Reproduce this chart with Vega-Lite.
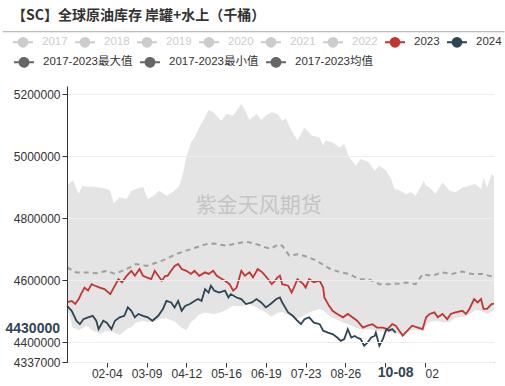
{
  "$schema": "https://vega.github.io/schema/vega-lite/v6.json",
  "width": 427,
  "height": 276,
  "autosize": "none",
  "padding": {"left": 67, "top": 86, "right": 11, "bottom": 24},
  "background": "white",
  "config": {"view": {"stroke": null}, "font": "Liberation Sans, Noto Sans CJK SC, sans-serif"},
  "title": {"text": "【SC】全球原油库存 岸罐+水上（千桶）", "anchor": "start", "frame": "group", "dx": -55, "offset": 8, "fontSize": 14, "font": "Noto Sans CJK SC", "fontWeight": "bold", "color": "#333333"},
  "datasets": {
    "band": [
      {"date":"2024-01-01","max":4905000,"min":4513000},{"date":"2024-01-06","max":4924000,"min":4448000},{"date":"2024-01-11","max":4879000,"min":4440000},{"date":"2024-01-14","max":4905000,"min":4445000},{"date":"2024-01-18","max":4902000,"min":4454000},{"date":"2024-01-23","max":4902000,"min":4438000},{"date":"2024-01-29","max":4900000,"min":4428000},{"date":"2024-02-04","max":4895000,"min":4438000},{"date":"2024-02-07","max":4889000,"min":4435000},{"date":"2024-02-10","max":4848000,"min":4432000},{"date":"2024-02-15","max":4868000,"min":4424000},{"date":"2024-02-21","max":4863000,"min":4443000},{"date":"2024-02-25","max":4889000,"min":4450000},{"date":"2024-02-29","max":4895000,"min":4464000},{"date":"2024-03-06","max":4902000,"min":4470000},{"date":"2024-03-10","max":4863000,"min":4466000},{"date":"2024-03-15","max":4873000,"min":4467000},{"date":"2024-03-20","max":4889000,"min":4475000},{"date":"2024-03-26","max":4873000,"min":4478000},{"date":"2024-04-02","max":4889000,"min":4468000},{"date":"2024-04-06","max":4905000,"min":4454000},{"date":"2024-04-09","max":4943000,"min":4445000},{"date":"2024-04-12","max":4997000,"min":4440000},{"date":"2024-04-16","max":5045000,"min":4466000},{"date":"2024-04-20","max":5067000,"min":4478000},{"date":"2024-04-23","max":5094000,"min":4490000},{"date":"2024-04-28","max":5126000,"min":4497000},{"date":"2024-05-01","max":5150000,"min":4495000},{"date":"2024-05-05","max":5142000,"min":4492000},{"date":"2024-05-12","max":5115000,"min":4498000},{"date":"2024-05-16","max":5137000,"min":4505000},{"date":"2024-05-22","max":5132000,"min":4518000},{"date":"2024-05-29","max":5169000,"min":4516000},{"date":"2024-06-02","max":5142000,"min":4520000},{"date":"2024-06-05","max":5117000,"min":4524000},{"date":"2024-06-11","max":5137000,"min":4512000},{"date":"2024-06-15","max":5117000,"min":4505000},{"date":"2024-06-19","max":5132000,"min":4497000},{"date":"2024-06-24","max":5142000,"min":4483000},{"date":"2024-06-29","max":5137000,"min":4496000},{"date":"2024-07-03","max":5115000,"min":4498000},{"date":"2024-07-06","max":5121000,"min":4492000},{"date":"2024-07-11","max":5083000,"min":4483000},{"date":"2024-07-16","max":5051000,"min":4476000},{"date":"2024-07-22","max":5094000,"min":4488000},{"date":"2024-07-28","max":5067000,"min":4500000},{"date":"2024-08-04","max":5061000,"min":4508000},{"date":"2024-08-07","max":5035000,"min":4503000},{"date":"2024-08-09","max":5051000,"min":4497000},{"date":"2024-08-15","max":5045000,"min":4480000},{"date":"2024-08-21","max":5029000,"min":4470000},{"date":"2024-08-25","max":5040000,"min":4462000},{"date":"2024-08-29","max":4997000,"min":4458000},{"date":"2024-09-04","max":4970000,"min":4447000},{"date":"2024-09-08","max":4992000,"min":4443000},{"date":"2024-09-15","max":4981000,"min":4442000},{"date":"2024-09-20","max":4954000,"min":4440000},{"date":"2024-09-24","max":4970000,"min":4437000},{"date":"2024-09-30","max":4954000,"min":4434000},{"date":"2024-10-04","max":4927000,"min":4432000},{"date":"2024-10-07","max":4895000,"min":4430000},{"date":"2024-10-12","max":4889000,"min":4425000},{"date":"2024-10-14","max":4884000,"min":4418000},{"date":"2024-10-17","max":4879000,"min":4430000},{"date":"2024-10-21","max":4884000,"min":4440000},{"date":"2024-10-25","max":4873000,"min":4440000},{"date":"2024-10-29","max":4900000,"min":4438000},{"date":"2024-11-01","max":4921000,"min":4436000},{"date":"2024-11-03","max":4905000,"min":4455000},{"date":"2024-11-06","max":4900000,"min":4466000},{"date":"2024-11-11","max":4879000,"min":4470000},{"date":"2024-11-17","max":4916000,"min":4465000},{"date":"2024-11-23","max":4889000,"min":4466000},{"date":"2024-11-28","max":4884000,"min":4480000},{"date":"2024-12-04","max":4900000,"min":4482000},{"date":"2024-12-10","max":4905000,"min":4490000},{"date":"2024-12-15","max":4911000,"min":4505000},{"date":"2024-12-20","max":4895000,"min":4502000},{"date":"2024-12-22","max":4932000,"min":4498000},{"date":"2024-12-25","max":4900000,"min":4492000},{"date":"2024-12-29","max":4943000,"min":4500000},{"date":"2024-12-31","max":4935000,"min":4505000}
    ],
    "avg": [
      {"date":"2024-01-01","value":4642000,"series":"2017-2023均值"},{"date":"2024-01-09","value":4626000,"series":"2017-2023均值"},{"date":"2024-01-18","value":4626000,"series":"2017-2023均值"},{"date":"2024-01-26","value":4623000,"series":"2017-2023均值"},{"date":"2024-02-04","value":4631000,"series":"2017-2023均值"},{"date":"2024-02-11","value":4621000,"series":"2017-2023均值"},{"date":"2024-02-21","value":4637000,"series":"2017-2023均值"},{"date":"2024-02-29","value":4653000,"series":"2017-2023均值"},{"date":"2024-03-09","value":4647000,"series":"2017-2023均值"},{"date":"2024-03-18","value":4658000,"series":"2017-2023均值"},{"date":"2024-03-26","value":4669000,"series":"2017-2023均值"},{"date":"2024-04-03","value":4685000,"series":"2017-2023均值"},{"date":"2024-04-12","value":4696000,"series":"2017-2023均值"},{"date":"2024-04-20","value":4706000,"series":"2017-2023均值"},{"date":"2024-04-29","value":4717000,"series":"2017-2023均值"},{"date":"2024-05-06","value":4719000,"series":"2017-2023均值"},{"date":"2024-05-16","value":4712000,"series":"2017-2023均值"},{"date":"2024-05-25","value":4719000,"series":"2017-2023均值"},{"date":"2024-06-02","value":4725000,"series":"2017-2023均值"},{"date":"2024-06-11","value":4717000,"series":"2017-2023均值"},{"date":"2024-06-19","value":4706000,"series":"2017-2023均值"},{"date":"2024-06-23","value":4703000,"series":"2017-2023均值"},{"date":"2024-06-28","value":4712000,"series":"2017-2023均值"},{"date":"2024-07-01","value":4717000,"series":"2017-2023均值"},{"date":"2024-07-03","value":4712000,"series":"2017-2023均值"},{"date":"2024-07-09","value":4680000,"series":"2017-2023均值"},{"date":"2024-07-17","value":4685000,"series":"2017-2023均值"},{"date":"2024-07-26","value":4674000,"series":"2017-2023均值"},{"date":"2024-08-01","value":4664000,"series":"2017-2023均值"},{"date":"2024-08-06","value":4653000,"series":"2017-2023均值"},{"date":"2024-08-13","value":4637000,"series":"2017-2023均值"},{"date":"2024-08-22","value":4626000,"series":"2017-2023均值"},{"date":"2024-08-29","value":4621000,"series":"2017-2023均值"},{"date":"2024-09-07","value":4604000,"series":"2017-2023均值"},{"date":"2024-09-15","value":4604000,"series":"2017-2023均值"},{"date":"2024-09-24","value":4588000,"series":"2017-2023均值"},{"date":"2024-10-02","value":4588000,"series":"2017-2023均值"},{"date":"2024-10-11","value":4590000,"series":"2017-2023均值"},{"date":"2024-10-17","value":4593000,"series":"2017-2023均值"},{"date":"2024-10-25","value":4588000,"series":"2017-2023均值"},{"date":"2024-10-31","value":4620000,"series":"2017-2023均值"},{"date":"2024-11-08","value":4615000,"series":"2017-2023均值"},{"date":"2024-11-17","value":4626000,"series":"2017-2023均值"},{"date":"2024-11-25","value":4621000,"series":"2017-2023均值"},{"date":"2024-12-04","value":4629000,"series":"2017-2023均值"},{"date":"2024-12-12","value":4621000,"series":"2017-2023均值"},{"date":"2024-12-21","value":4621000,"series":"2017-2023均值"},{"date":"2024-12-27","value":4615000,"series":"2017-2023均值"},{"date":"2024-12-31","value":4612000,"series":"2017-2023均值"}
    ],
    "years": [
      {"date":"2024-01-01","value":4529000,"series":"2023"},{"date":"2024-01-05","value":4534000,"series":"2023"},{"date":"2024-01-08","value":4524000,"series":"2023"},{"date":"2024-01-11","value":4540000,"series":"2023"},{"date":"2024-01-13","value":4556000,"series":"2023"},{"date":"2024-01-16","value":4577000,"series":"2023"},{"date":"2024-01-19","value":4567000,"series":"2023"},{"date":"2024-01-22","value":4588000,"series":"2023"},{"date":"2024-01-25","value":4583000,"series":"2023"},{"date":"2024-01-29","value":4577000,"series":"2023"},{"date":"2024-02-02","value":4572000,"series":"2023"},{"date":"2024-02-07","value":4556000,"series":"2023"},{"date":"2024-02-10","value":4577000,"series":"2023"},{"date":"2024-02-14","value":4604000,"series":"2023"},{"date":"2024-02-17","value":4594000,"series":"2023"},{"date":"2024-02-21","value":4615000,"series":"2023"},{"date":"2024-02-25","value":4631000,"series":"2023"},{"date":"2024-02-28","value":4615000,"series":"2023"},{"date":"2024-03-03","value":4637000,"series":"2023"},{"date":"2024-03-06","value":4615000,"series":"2023"},{"date":"2024-03-09","value":4610000,"series":"2023"},{"date":"2024-03-13","value":4604000,"series":"2023"},{"date":"2024-03-16","value":4631000,"series":"2023"},{"date":"2024-03-19","value":4615000,"series":"2023"},{"date":"2024-03-22","value":4599000,"series":"2023"},{"date":"2024-03-25","value":4615000,"series":"2023"},{"date":"2024-03-27","value":4615000,"series":"2023"},{"date":"2024-03-30","value":4631000,"series":"2023"},{"date":"2024-04-02","value":4647000,"series":"2023"},{"date":"2024-04-05","value":4653000,"series":"2023"},{"date":"2024-04-08","value":4637000,"series":"2023"},{"date":"2024-04-12","value":4631000,"series":"2023"},{"date":"2024-04-16","value":4621000,"series":"2023"},{"date":"2024-04-19","value":4631000,"series":"2023"},{"date":"2024-04-23","value":4615000,"series":"2023"},{"date":"2024-04-28","value":4626000,"series":"2023"},{"date":"2024-05-01","value":4621000,"series":"2023"},{"date":"2024-05-05","value":4631000,"series":"2023"},{"date":"2024-05-08","value":4615000,"series":"2023"},{"date":"2024-05-10","value":4610000,"series":"2023"},{"date":"2024-05-15","value":4599000,"series":"2023"},{"date":"2024-05-19","value":4588000,"series":"2023"},{"date":"2024-05-22","value":4567000,"series":"2023"},{"date":"2024-05-25","value":4577000,"series":"2023"},{"date":"2024-05-29","value":4631000,"series":"2023"},{"date":"2024-06-01","value":4615000,"series":"2023"},{"date":"2024-06-05","value":4626000,"series":"2023"},{"date":"2024-06-08","value":4610000,"series":"2023"},{"date":"2024-06-12","value":4637000,"series":"2023"},{"date":"2024-06-16","value":4626000,"series":"2023"},{"date":"2024-06-21","value":4604000,"series":"2023"},{"date":"2024-06-24","value":4588000,"series":"2023"},{"date":"2024-06-26","value":4595000,"series":"2023"},{"date":"2024-06-29","value":4610000,"series":"2023"},{"date":"2024-07-01","value":4615000,"series":"2023"},{"date":"2024-07-03","value":4588000,"series":"2023"},{"date":"2024-07-08","value":4583000,"series":"2023"},{"date":"2024-07-11","value":4561000,"series":"2023"},{"date":"2024-07-13","value":4577000,"series":"2023"},{"date":"2024-07-16","value":4604000,"series":"2023"},{"date":"2024-07-21","value":4588000,"series":"2023"},{"date":"2024-07-23","value":4577000,"series":"2023"},{"date":"2024-07-26","value":4604000,"series":"2023"},{"date":"2024-07-30","value":4594000,"series":"2023"},{"date":"2024-08-04","value":4599000,"series":"2023"},{"date":"2024-08-07","value":4577000,"series":"2023"},{"date":"2024-08-08","value":4545000,"series":"2023"},{"date":"2024-08-12","value":4518000,"series":"2023"},{"date":"2024-08-15","value":4502000,"series":"2023"},{"date":"2024-08-19","value":4492000,"series":"2023"},{"date":"2024-08-24","value":4481000,"series":"2023"},{"date":"2024-08-28","value":4492000,"series":"2023"},{"date":"2024-09-01","value":4481000,"series":"2023"},{"date":"2024-09-05","value":4470000,"series":"2023"},{"date":"2024-09-10","value":4448000,"series":"2023"},{"date":"2024-09-14","value":4454000,"series":"2023"},{"date":"2024-09-18","value":4459000,"series":"2023"},{"date":"2024-09-22","value":4448000,"series":"2023"},{"date":"2024-09-27","value":4448000,"series":"2023"},{"date":"2024-10-01","value":4443000,"series":"2023"},{"date":"2024-10-05","value":4459000,"series":"2023"},{"date":"2024-10-08","value":4454000,"series":"2023"},{"date":"2024-10-11","value":4438000,"series":"2023"},{"date":"2024-10-14","value":4422000,"series":"2023"},{"date":"2024-10-18","value":4438000,"series":"2023"},{"date":"2024-10-22","value":4454000,"series":"2023"},{"date":"2024-10-27","value":4448000,"series":"2023"},{"date":"2024-10-31","value":4443000,"series":"2023"},{"date":"2024-11-03","value":4481000,"series":"2023"},{"date":"2024-11-06","value":4492000,"series":"2023"},{"date":"2024-11-10","value":4497000,"series":"2023"},{"date":"2024-11-13","value":4481000,"series":"2023"},{"date":"2024-11-17","value":4492000,"series":"2023"},{"date":"2024-11-21","value":4475000,"series":"2023"},{"date":"2024-11-24","value":4492000,"series":"2023"},{"date":"2024-11-28","value":4497000,"series":"2023"},{"date":"2024-12-04","value":4502000,"series":"2023"},{"date":"2024-12-07","value":4492000,"series":"2023"},{"date":"2024-12-10","value":4508000,"series":"2023"},{"date":"2024-12-14","value":4540000,"series":"2023"},{"date":"2024-12-17","value":4529000,"series":"2023"},{"date":"2024-12-20","value":4540000,"series":"2023"},{"date":"2024-12-22","value":4508000,"series":"2023"},{"date":"2024-12-25","value":4508000,"series":"2023"},{"date":"2024-12-29","value":4524000,"series":"2023"},{"date":"2024-12-31","value":4525000,"series":"2023"},
      {"date":"2024-01-01","value":4518000,"series":"2024"},{"date":"2024-01-05","value":4502000,"series":"2024"},{"date":"2024-01-09","value":4470000,"series":"2024"},{"date":"2024-01-12","value":4459000,"series":"2024"},{"date":"2024-01-15","value":4475000,"series":"2024"},{"date":"2024-01-19","value":4481000,"series":"2024"},{"date":"2024-01-23","value":4486000,"series":"2024"},{"date":"2024-01-26","value":4470000,"series":"2024"},{"date":"2024-01-28","value":4443000,"series":"2024"},{"date":"2024-02-01","value":4470000,"series":"2024"},{"date":"2024-02-04","value":4464000,"series":"2024"},{"date":"2024-02-08","value":4443000,"series":"2024"},{"date":"2024-02-11","value":4470000,"series":"2024"},{"date":"2024-02-15","value":4481000,"series":"2024"},{"date":"2024-02-19","value":4486000,"series":"2024"},{"date":"2024-02-22","value":4513000,"series":"2024"},{"date":"2024-02-25","value":4502000,"series":"2024"},{"date":"2024-02-28","value":4481000,"series":"2024"},{"date":"2024-03-02","value":4492000,"series":"2024"},{"date":"2024-03-06","value":4486000,"series":"2024"},{"date":"2024-03-10","value":4481000,"series":"2024"},{"date":"2024-03-14","value":4470000,"series":"2024"},{"date":"2024-03-19","value":4486000,"series":"2024"},{"date":"2024-03-23","value":4508000,"series":"2024"},{"date":"2024-03-26","value":4534000,"series":"2024"},{"date":"2024-03-30","value":4529000,"series":"2024"},{"date":"2024-04-02","value":4513000,"series":"2024"},{"date":"2024-04-05","value":4534000,"series":"2024"},{"date":"2024-04-08","value":4502000,"series":"2024"},{"date":"2024-04-11","value":4518000,"series":"2024"},{"date":"2024-04-15","value":4524000,"series":"2024"},{"date":"2024-04-19","value":4534000,"series":"2024"},{"date":"2024-04-22","value":4540000,"series":"2024"},{"date":"2024-04-25","value":4534000,"series":"2024"},{"date":"2024-04-28","value":4572000,"series":"2024"},{"date":"2024-05-01","value":4561000,"series":"2024"},{"date":"2024-05-03","value":4583000,"series":"2024"},{"date":"2024-05-06","value":4567000,"series":"2024"},{"date":"2024-05-10","value":4561000,"series":"2024"},{"date":"2024-05-15","value":4567000,"series":"2024"},{"date":"2024-05-18","value":4545000,"series":"2024"},{"date":"2024-05-20","value":4556000,"series":"2024"},{"date":"2024-05-25","value":4545000,"series":"2024"},{"date":"2024-05-29","value":4540000,"series":"2024"},{"date":"2024-06-02","value":4524000,"series":"2024"},{"date":"2024-06-07","value":4529000,"series":"2024"},{"date":"2024-06-11","value":4540000,"series":"2024"},{"date":"2024-06-15","value":4529000,"series":"2024"},{"date":"2024-06-19","value":4513000,"series":"2024"},{"date":"2024-06-23","value":4524000,"series":"2024"},{"date":"2024-06-28","value":4540000,"series":"2024"},{"date":"2024-07-01","value":4545000,"series":"2024"},{"date":"2024-07-03","value":4529000,"series":"2024"},{"date":"2024-07-08","value":4497000,"series":"2024"},{"date":"2024-07-12","value":4486000,"series":"2024"},{"date":"2024-07-16","value":4470000,"series":"2024"},{"date":"2024-07-19","value":4459000,"series":"2024"},{"date":"2024-07-22","value":4475000,"series":"2024"},{"date":"2024-07-26","value":4481000,"series":"2024"},{"date":"2024-07-30","value":4464000,"series":"2024"},{"date":"2024-08-04","value":4459000,"series":"2024"},{"date":"2024-08-07","value":4438000,"series":"2024"},{"date":"2024-08-11","value":4432000,"series":"2024"},{"date":"2024-08-15","value":4427000,"series":"2024"},{"date":"2024-08-19","value":4416000,"series":"2024"},{"date":"2024-08-22","value":4405000,"series":"2024"},{"date":"2024-08-25","value":4411000,"series":"2024"},{"date":"2024-08-28","value":4443000,"series":"2024"},{"date":"2024-08-31","value":4416000,"series":"2024"},{"date":"2024-09-03","value":4421000,"series":"2024"},{"date":"2024-09-05","value":4416000,"series":"2024"},{"date":"2024-09-08","value":4411000,"series":"2024"},{"date":"2024-09-11","value":4389000,"series":"2024"},{"date":"2024-09-14","value":4400000,"series":"2024"},{"date":"2024-09-17","value":4416000,"series":"2024"},{"date":"2024-09-20","value":4421000,"series":"2024"},{"date":"2024-09-21","value":4432000,"series":"2024"},{"date":"2024-09-24","value":4389000,"series":"2024"},{"date":"2024-09-27","value":4411000,"series":"2024"},{"date":"2024-09-30","value":4443000,"series":"2024"},{"date":"2024-10-02","value":4438000,"series":"2024"},{"date":"2024-10-05","value":4443000,"series":"2024"},{"date":"2024-10-08","value":4432000,"series":"2024"}
    ]
  },
  "layer": [
    {
      "data": {"name": "band"},
      "mark": {"type": "area", "color": "#e4e4e4", "interpolate": "linear"},
      "encoding": {
        "x": {
          "field": "date", "type": "temporal", "title": null,
          "scale": {"type": "utc", "domain": [{"year": 2024, "month": 1, "date": 1, "utc": true}, {"year": 2024, "month": 12, "date": 31, "utc": true}]},
          "axis": {
            "values": [
              {"year": 2024, "month": 2, "date": 4, "utc": true}, {"year": 2024, "month": 3, "date": 9, "utc": true}, {"year": 2024, "month": 4, "date": 12, "utc": true}, {"year": 2024, "month": 5, "date": 16, "utc": true}, {"year": 2024, "month": 6, "date": 19, "utc": true}, {"year": 2024, "month": 7, "date": 23, "utc": true}, {"year": 2024, "month": 8, "date": 26, "utc": true}, {"year": 2024, "month": 9, "date": 29, "utc": true}, {"year": 2024, "month": 11, "date": 2, "utc": true}
            ],
            "labelExpr": "utcFormat(datum.value, '%m-%d') == '09-29' ? '' : (utcFormat(datum.value, '%m-%d') == '11-02' ? '02' : utcFormat(datum.value, '%m-%d'))",
            "labelAlign": {"condition": {"test": "utcFormat(datum.value, '%m-%d') == '11-02'", "value": "left"}, "value": "center"},
            "grid": false, "domainColor": "#333333", "tickColor": "#333333", "tickSize": 5,
            "labelColor": "#333333", "labelFontSize": 12, "labelPadding": 1, "labelFlush": false, "labelOverlap": false,
            "labelFont": "Liberation Sans"
          }
        },
        "y": {
          "field": "max", "type": "quantitative", "title": null,
          "scale": {"domain": [4337000, 5227000], "nice": false, "zero": false},
          "axis": {"values": [4337000, 4400000, 4600000, 4800000, 5000000, 5200000], "format": "d", "grid": true, "gridColor": "#eeeeee", "zindex": 1, "domainColor": "#333333", "tickColor": "#333333", "tickSize": 5, "labelColor": "#333333", "labelFontSize": 12, "labelPadding": 2, "labelFont": "Liberation Sans"}
        },
        "y2": {"field": "min"}
      }
    },
    {
      "data": {"values": [{"watermark": "紫金天风期货"}]},
      "mark": {"type": "text", "font": "Noto Sans CJK SC", "fontSize": 21, "color": "#c4c4c4", "align": "center", "baseline": "middle"},
      "encoding": {
        "x": {"datum": 1718236800000, "type": "temporal"},
        "y": {"datum": 4841000, "type": "quantitative"},
        "text": {"field": "watermark", "type": "nominal"}
      }
    },
    {
      "data": {"name": "avg"},
      "mark": {"type": "line", "strokeDash": [5, 4], "strokeWidth": 2, "opacity": 0.55},
      "encoding": {
        "x": {"field": "date", "type": "temporal", "title": null},
        "y": {"field": "value", "type": "quantitative", "title": null},
        "color": {
          "field": "series", "type": "nominal",
          "scale": {"domain": ["2017-2023最大值", "2017-2023最小值", "2017-2023均值"], "range": ["#666666", "#666666", "#666666"]},
          "legend": {
            "orient": "none", "legendX": -54, "legendY": -35, "direction": "horizontal", "title": null, "padding": 0,
            "symbolType": "M-1,0L-0.44,0M0.44,0L1,0M-0.44,0A0.44,0.44,0,1,1,0.44,0A0.44,0.44,0,1,1,-0.44,0Z",
            "symbolSize": 400, "symbolStrokeWidth": 2, "symbolOpacity": 1, "symbolDash": [1, 0], "symbolFillColor": "#666666",
            "labelFontSize": 11.5, "labelOffset": 8, "columnPadding": 3,
            "labelColor": "#333333", "labelFont": "Liberation Sans, Noto Sans CJK SC"
          }
        }
      }
    },
    {
      "data": {"name": "years"},
      "mark": {"type": "line", "strokeWidth": 1.8},
      "encoding": {
        "x": {"field": "date", "type": "temporal", "title": null},
        "y": {"field": "value", "type": "quantitative", "title": null},
        "color": {
          "field": "series", "type": "nominal",
          "scale": {"domain": ["2017", "2018", "2019", "2020", "2021", "2022", "2023", "2024"], "range": ["#cccccc", "#cccccc", "#cccccc", "#cccccc", "#cccccc", "#cccccc", "#c23531", "#2f4554"]},
          "legend": {
            "orient": "none", "legendX": -55, "legendY": -55, "direction": "horizontal", "title": null, "padding": 0,
            "symbolType": "M-1,0L-0.44,0M0.44,0L1,0M-0.44,0A0.44,0.44,0,1,1,0.44,0A0.44,0.44,0,1,1,-0.44,0Z",
            "symbolSize": 400, "symbolStrokeWidth": 2, "symbolOpacity": 1,
            "symbolFillColor": {"expr": "datum.value == '2023' ? '#c23531' : (datum.value == '2024' ? '#2f4554' : '#cccccc')"},
            "labelColor": {"expr": "datum.label == '2023' || datum.label == '2024' ? '#333333' : '#cccccc'"},
            "labelFontSize": 11.5, "labelOffset": 8, "columnPadding": 3,
            "labelFont": "Liberation Sans, Noto Sans CJK SC"
          }
        }
      }
    },
    {
      "data": {"values": [{"line": "title underline"}]},
      "mark": {"type": "rule", "color": "#aaaaaa", "strokeWidth": 1, "clip": false},
      "encoding": {
        "x": {"datum": 1699315200000, "type": "temporal"},
        "x2": {"datum": 1736380800000},
        "y": {"datum": 5402000, "type": "quantitative"}
      }
    },
    {
      "data": {"values": [{"label": "10-08"}]},
      "mark": {"type": "text", "font": "Liberation Sans", "fontSize": 14, "fontWeight": "bold", "color": "#2f4554", "align": "center", "baseline": "top", "dy": 4, "clip": false},
      "encoding": {
        "x": {"datum": 1728345600000, "type": "temporal"},
        "y": {"datum": 4337000, "type": "quantitative"},
        "text": {"field": "label", "type": "nominal"}
      }
    },
    {
      "data": {"values": [{"label": "4430000"}]},
      "mark": {"type": "text", "font": "Liberation Sans", "fontSize": 14, "fontWeight": "bold", "color": "#2f4554", "align": "right", "baseline": "middle", "dx": -7, "dy": -4, "clip": false},
      "encoding": {
        "x": {"datum": 1704067200000, "type": "temporal"},
        "y": {"datum": 4430000, "type": "quantitative"},
        "text": {"field": "label", "type": "nominal"}
      }
    }
  ],
  "resolve": {"scale": {"color": "independent"}, "legend": {"color": "independent"}}
}
